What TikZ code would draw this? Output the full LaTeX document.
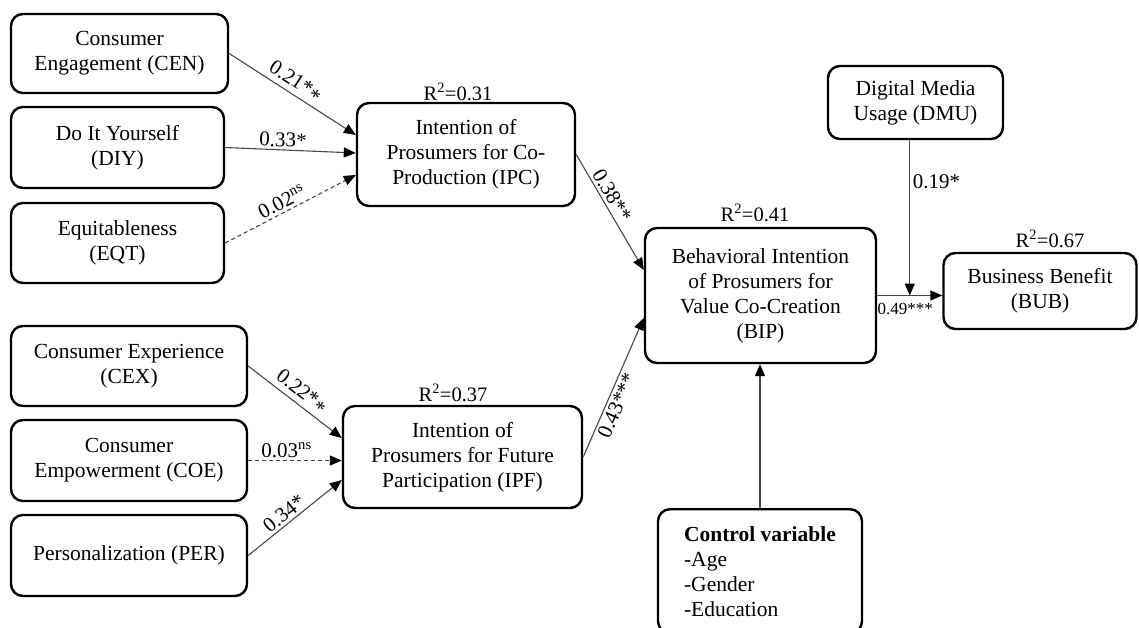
\documentclass[tikz,border=0pt]{standalone}
\usepackage{fontspec}
\setmainfont{Liberation Serif}
\usetikzlibrary{arrows.meta,calc}
\begin{document}
\begin{tikzpicture}[x=1pt,y=-1pt,
  box/.style={draw, line width=2.4pt, rounded corners=12pt, align=center, inner sep=2pt,
    font=\fontsize{21.5}{25}\selectfont},
  link/.style={draw=black!72, line width=1.1pt, -{Triangle[length=12pt,width=10pt,color=black]}},
  coef/.style={font=\fontsize{21}{22}\selectfont, inner sep=2.5pt},
  rsq/.style={font=\fontsize{20.5}{22}\selectfont}]
\useasboundingbox (0,0) rectangle (1139,627);

% exogenous constructs
\node[box, minimum width=217pt, minimum height=79pt] (CEN) at (119.5,53.5) {Consumer\\Engagement (CEN)};
\node[box, minimum width=213pt, minimum height=81pt] (DIY) at (117.5,147.5) {Do It Yourself\\(DIY)};
\node[box, minimum width=213pt, minimum height=80pt] (EQT) at (117.5,243) {Equitableness\\(EQT)};
\node[box, minimum width=236pt, minimum height=80pt] (CEX) at (129,366) {Consumer Experience\\(CEX)};
\node[box, minimum width=236pt, minimum height=81pt] (COE) at (129,460.5) {Consumer\\Empowerment (COE)};
\node[box, minimum width=236pt, minimum height=81pt] (PER) at (129,555.5) {Personalization (PER)};

% mediators / outcomes
\node[box, minimum width=218pt, minimum height=103pt] (IPC) at (466,154.5) {Intention of\\Prosumers for Co-\\Production (IPC)};
\node[box, minimum width=239pt, minimum height=102pt] (IPF) at (462.5,457) {Intention of\\Prosumers for Future\\Participation (IPF)};
\node[box, minimum width=231pt, minimum height=135pt] (BIP) at (760.5,295.5) {Behavioral Intention\\of Prosumers for\\Value Co-Creation\\(BIP)};
\node[box, minimum width=175pt, minimum height=73pt] (DMU) at (915.5,102.5) {Digital Media\\Usage (DMU)};
\node[box, minimum width=193pt, minimum height=76pt] (BUB) at (1040,291) {Business Benefit\\(BUB)};

\begin{scope}
\clip (0,0) rectangle (1139,627);
\node[box, anchor=north, align=left, minimum width=204pt, minimum height=124pt] (CTRL) at (760,508)
  {\textbf{Control variable}\\-Age\\-Gender\\-Education};
\end{scope}

% R squared
\node[rsq] (rIPC) at (458,92) {R\textsuperscript{2}=0.31};
\node[rsq] (rIPF) at (453,393) {R\textsuperscript{2}=0.37};
\node[rsq] (rBIP) at (755,213) {R\textsuperscript{2}=0.41};
\node[rsq] (rBUB) at (1050,239) {R\textsuperscript{2}=0.67};

% paths
\draw[link] (CEN.east) -- node[coef, sloped, above, pos=0.47] {0.21*\raisebox{-0.35ex}{*}} ([yshift=19.5pt]IPC.west);
\draw[link] (DIY.east) -- node[coef, sloped, above, pos=0.44] {0.33*} ([yshift=1.5pt]IPC.west);
\draw[link, dashed, dash pattern=on 4pt off 3pt] (EQT.east) -- node[coef, sloped, above, pos=0.47] {0.02\textsuperscript{ns}} ([yshift=-20.5pt]IPC.west);

\draw[link] (CEX.east) -- node[coef, sloped, above, pos=0.49] {0.22*\raisebox{-0.35ex}{*}} ([yshift=19pt]IPF.west);
\draw[link, dashed, dash pattern=on 4pt off 3pt] (COE.east) -- node[coef, above, pos=0.41] {0.03\textsuperscript{ns}} (COE.east -| IPF.west);
\draw[link] (PER.east) -- node[coef, sloped, above, pos=0.45] {0.34*} ([yshift=-23pt]IPF.west);

\draw[link] (IPC.east) -- node[coef, sloped, above, pos=0.4] {0.38**} ([yshift=25.5pt]BIP.west);
\draw[link] (IPF.east) -- node[coef, sloped, below, pos=0.4] {0.43***} ([yshift=-22.5pt]BIP.west);

\draw[link] (BIP.east) -- coordinate[pos=0.5] (m)
  node[font=\fontsize{17}{18}\selectfont, below, pos=0.43, inner sep=7pt] {0.49***} (BIP.east -| BUB.west);
\draw[link] (DMU.south -| m) -- node[coef, right, pos=0.27] {0.19*} (m);
\draw[link] (CTRL.north) -- (CTRL.north |- BIP.south);
\end{tikzpicture}
\end{document}
